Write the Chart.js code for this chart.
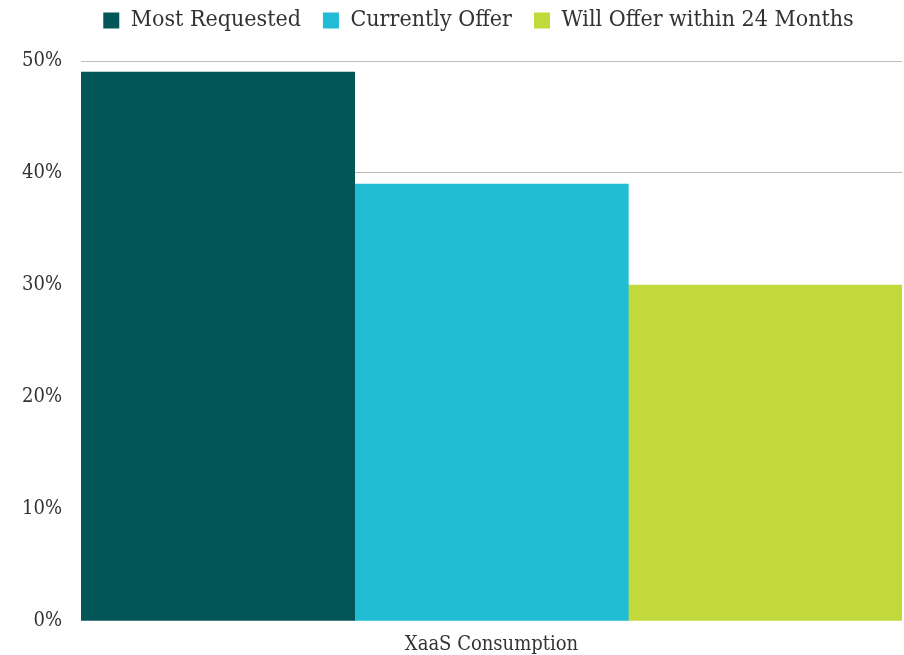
<!DOCTYPE html>
<html>
<head>
<meta charset="utf-8">
<script src="https://cdn.jsdelivr.net/npm/chart.js@4/dist/chart.umd.min.js"></script>
<style>
  html, body { margin: 0; padding: 0; background: #ffffff; }
  #wrap { width: 904px; height: 655px; }
</style>
</head>
<body>
<div id="wrap"><canvas id="c" width="904" height="655"></canvas></div>
<script>
const categories = ["XaaS Consumption"];
const mostRequested = [49];
const currentlyOffer = [39];
const willOffer24 = [30];
const yTicks = [0, 10, 20, 30, 40, 50];

const serif = "'DejaVu Serif Condensed', 'DejaVu Serif', 'Liberation Serif', serif";

// Extra room under the legend, and nudge the legend row to the right.
const legendSpacing = {
  id: 'legendSpacing',
  beforeInit(chart) {
    const fit = chart.legend.fit;
    chart.legend.fit = function () {
      fit.call(this);
      this.height += 19;
    };
  },
  afterLayout(chart) {
    chart.legend.left += 52;
  }
};

new Chart(document.getElementById('c'), {
  type: 'bar',
  data: {
    labels: categories,
    datasets: [
      { label: 'Most Requested', data: mostRequested, backgroundColor: '#035657' },
      { label: 'Currently Offer', data: currentlyOffer, backgroundColor: '#20BDD4' },
      { label: 'Will Offer within 24 Months', data: willOffer24, backgroundColor: '#C1D93B' }
    ]
  },
  plugins: [legendSpacing],
  options: {
    responsive: false,
    animation: false,
    layout: { padding: { left: 3, right: 2, top: -13, bottom: -6 } },
    datasets: { bar: { categoryPercentage: 1, barPercentage: 1 } },
    plugins: {
      tooltip: { enabled: false },
      legend: {
        position: 'top',
        labels: {
          boxWidth: 16, boxHeight: 16, padding: 22,
          color: '#333333',
          font: { family: serif, size: 23 }
        }
      }
    },
    scales: {
      x: {
        grid: { display: false },
        border: { display: false },
        ticks: { color: '#333333', font: { family: serif, size: 20 }, padding: 4 }
      },
      y: {
        min: 0, max: 50,
        afterBuildTicks: (axis) => { axis.ticks = yTicks.map(v => ({ value: v })); },
        grid: {
          color: (ctx) => (ctx.tick && ctx.tick.value === 0 ? 'rgba(0,0,0,0)' : '#bdbdbd'),
          lineWidth: 1,
          drawTicks: false
        },
        border: { display: false },
        ticks: {
          color: '#333333',
          font: { family: serif, size: 20 },
          padding: 19,
          callback: (v) => v + '%'
        }
      }
    }
  }
});
</script>
</body>
</html>
